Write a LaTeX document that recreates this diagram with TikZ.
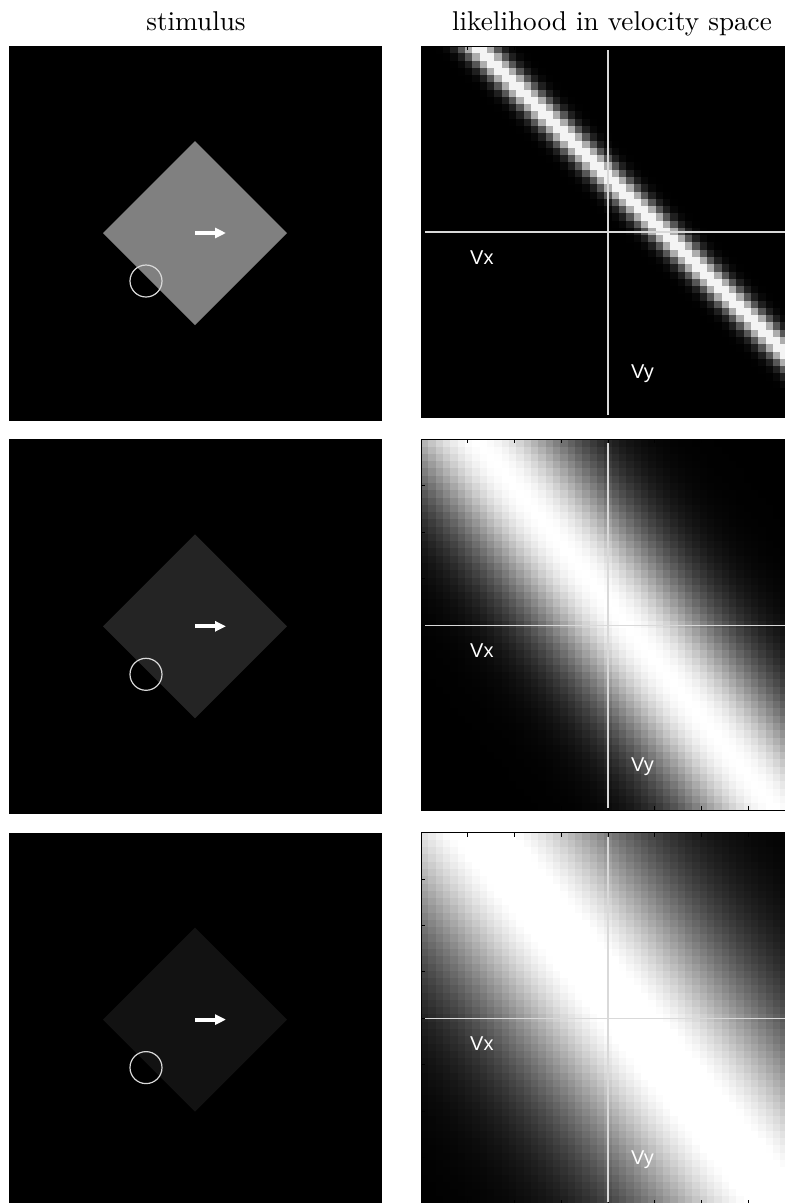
\documentclass[tikz,border=0pt]{standalone}
\usepackage{fontspec}
\newfontfamily\axisfont{Liberation Sans}
\newfontfamily\titlefont{lmroman10-regular.otf}
\usetikzlibrary{arrows.meta}

% size of one likelihood cell (51 x 51 grid)
\newcommand\cw{7.333}
\newcommand\ch{7.275}

\begin{document}
\begin{tikzpicture}[
  x=1pt, y=-1pt,
  paneltitle/.style={anchor=base, inner sep=0pt, font=\titlefont\fontsize{27.2}{32}\selectfont},
  axislabel/.style={anchor=base west, inner sep=0pt, text=white, font=\axisfont\fontsize{20}{24}\selectfont},
  axisline/.style={draw=white!85!black, line width=1.3pt},
  ticklines/.style={draw=black, line width=0.8pt},
  edgecircle/.style={draw=white!85!black, line width=1.2pt},
  motion/.style={draw=white, line width=4pt, -{Triangle[length=11pt,width=10pt]}}
]
  \useasboundingbox (0,0) rectangle (785,1203);
  \fill[white] (0,0) rectangle (785,1203);
  \clip (0,0) rectangle (785,1203);

  \node[paneltitle] (stimtitle) at (196,30) {stimulus};
  \node[paneltitle] (liketitle) at (612,30) {likelihood in velocity space};

  % one row per contrast level: ridge i = a + b*j, width, peak
  \foreach \row/\shade/\ra/\rb/\sig/\peak in {0/50/7.5/1.0/1.7/1.0, 1/14/7.5/0.8/9/1.0, 2/7/8/0.8/14/1.05}{
    \begin{scope}[shift={(0,\row*393.3)}]
      % stimulus
      \fill[black] (9,46) rectangle (382,421);
      \fill[white!\shade!black] (195,141) -- (287,233) -- (195,325) -- (103,233) -- cycle;
      \draw[motion] (195,233) -- (226,233);
      \draw[edgecircle] (146,281) circle (16);

      % likelihood
      \fill[black] (421,46) rectangle (795,417);
      \foreach \j in {0,...,50}{
        \pgfmathsetmacro\ic{\ra+\rb*\j}
        \pgfmathtruncatemacro\ilo{max(0,ceil(\ic-3.8*\sig))}
        \pgfmathtruncatemacro\ihi{min(50,floor(\ic+3.8*\sig))}
        \ifnum\ilo>\ihi\else
          \foreach \i in {\ilo,...,\ihi}{
            \pgfmathsetmacro\lev{min(100,100*\peak*exp(-(\i-\ic)^2/(2*\sig*\sig)))}
            \fill[white!\lev!black] ({421+\i*\cw},{46+\j*\ch}) rectangle +({\cw+0.4},{\ch+0.4});
          }
        \fi
      }
      \draw[black, line width=1pt] (421,46) rectangle (795,417);
      \foreach \t in {0,...,8}{
        \draw[ticklines] ({421+\t*46.75},46) -- ++(0,4);
        \draw[ticklines] ({421+\t*46.75},417) -- ++(0,-4);
        \draw[ticklines] (421,{46+\t*46.4}) -- ++(4,0);
      }
      \draw[axisline] (608,50) -- (608,415);
      \draw[axisline] (425,232) -- (795,232);
      \node[axislabel] (vx\row) at (470,264) {Vx};
      \node[axislabel] (vy\row) at (631,378) {Vy};
    \end{scope}
  }
\end{tikzpicture}
\end{document}
